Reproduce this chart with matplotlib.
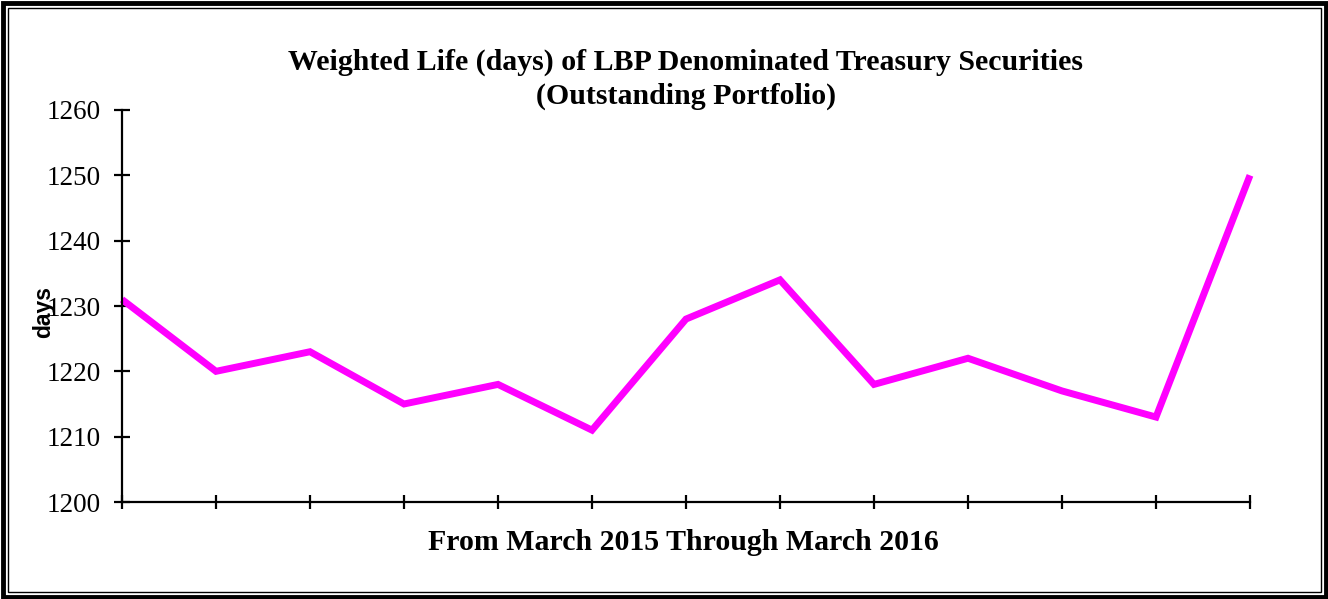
import matplotlib
matplotlib.use("Agg")
import matplotlib.pyplot as plt
from matplotlib.patches import Rectangle

months = ["Mar-15", "Apr-15", "May-15", "Jun-15", "Jul-15", "Aug-15", "Sep-15",
          "Oct-15", "Nov-15", "Dec-15", "Jan-16", "Feb-16", "Mar-16"]
days = [1231, 1220, 1223, 1215, 1218, 1211, 1228, 1234, 1218, 1222, 1217, 1213, 1250]
yticks = [1200, 1210, 1220, 1230, 1240, 1250, 1260]

W, H = 1328, 599
fig = plt.figure(figsize=(W / 100, H / 100), dpi=100)
fig.patch.set_facecolor("white")

# double frame
fig.add_artist(Rectangle((2.5 / W, 2.5 / H), 1 - 5 / W, 1 - 5 / H, transform=fig.transFigure,
                         fill=False, edgecolor="black", linewidth=3.5))
fig.add_artist(Rectangle((7.5 / W, 7.5 / H), 1 - 15 / W, 1 - 15 / H, transform=fig.transFigure,
                         fill=False, edgecolor="black", linewidth=1.0))

ax = fig.add_axes([122 / W, 1 - 502 / H, (1250 - 122) / W, (502 - 110) / H])
x = list(range(len(months)))
ax.plot(x, days, color="#FF00FF", linewidth=5, solid_joinstyle="miter", solid_capstyle="butt",
        clip_on=False)
ax.set_xlim(0, len(months) - 1)
ax.set_ylim(1200, 1260)
ax.set_yticks(yticks)
ax.set_xticks(x)
ax.set_xticklabels([])
for s in ["top", "right"]:
    ax.spines[s].set_visible(False)
for s in ["left", "bottom"]:
    ax.spines[s].set_linewidth(1.6)
ax.tick_params(axis="y", direction="inout", length=12, width=1.6, labelsize=19.5, pad=9)
ax.tick_params(axis="x", direction="inout", length=10, width=1.6)
for lab in ax.get_yticklabels():
    lab.set_fontfamily("Liberation Serif")

fig.text(686 / W, 1 - 62 / H, "Weighted Life (days) of LBP Denominated Treasury Securities",
         ha="center", va="center", fontsize=21.5, fontweight="bold", family="Liberation Serif")
fig.text(686 / W, 1 - 96 / H, "(Outstanding Portfolio)",
         ha="center", va="center", fontsize=21.5, fontweight="bold", family="Liberation Serif")
fig.text(683 / W, 1 - 543 / H, "From March 2015 Through March 2016",
         ha="center", va="center", fontsize=21.5, fontweight="bold", family="Liberation Serif")
fig.text(44 / W, 1 - 312 / H, "days", rotation=90, ha="center", va="center",
         fontsize=16.5, fontweight="bold", family="Liberation Sans")

fig.savefig("out.png", dpi=100)
